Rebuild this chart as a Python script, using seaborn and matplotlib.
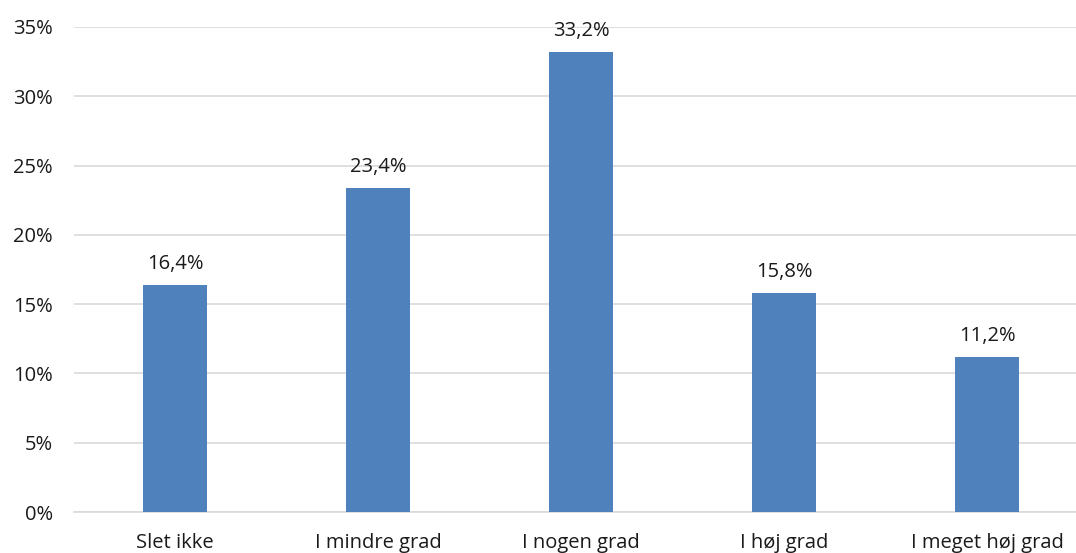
import matplotlib
matplotlib.use("Agg")
import matplotlib.pyplot as plt
import seaborn as sns
import pandas as pd

categories = ["Slet ikke", "I mindre grad", "I nogen grad", "I høj grad", "I meget høj grad"]
values = [16.4, 23.4, 33.2, 15.8, 11.2]
yticks = [0, 5, 10, 15, 20, 25, 30, 35]

sns.set_theme(style="white")
plt.rcParams["font.family"] = ["Open Sans", "DejaVu Sans"]

df = pd.DataFrame({"kategori": categories, "andel": values})

fig = plt.figure(figsize=(10.76, 5.53), dpi=100)
ax = fig.add_axes([73.5 / 1076, 1 - 512 / 553, 1015 / 1076, 485 / 553])

sns.barplot(data=df, x="kategori", y="andel", color="#4F81BD", saturation=1,
            width=0.315, linewidth=0, ax=ax, zorder=3)

fs = 14.5
ax.set_xlim(-0.5, 4.5)
ax.set_ylim(0, 35)
ax.set_yticks(yticks)
ax.set_yticklabels([f"{t}%" for t in yticks], fontsize=fs, color="#1a1a1a")
ax.tick_params(axis="x", labelsize=fs, colors="#1a1a1a", length=0, pad=15)
ax.tick_params(axis="y", length=0, pad=15)
ax.set_xlabel("")
ax.set_ylabel("")
ax.grid(axis="y", color="#D9D9D9", linewidth=1.2, zorder=0)
ax.set_axisbelow(True)
for side in ["top", "right", "left"]:
    ax.spines[side].set_visible(False)
ax.spines["bottom"].set_color("#D9D9D9")
ax.spines["bottom"].set_linewidth(1.2)

for i, v in enumerate(values):
    ax.annotate(f"{v:.1f}%".replace(".", ","), (i, v), xytext=(0, 8),
                textcoords="offset points", ha="center", va="bottom",
                fontsize=fs, color="#1a1a1a")

fig.savefig("out.png", dpi=100)
